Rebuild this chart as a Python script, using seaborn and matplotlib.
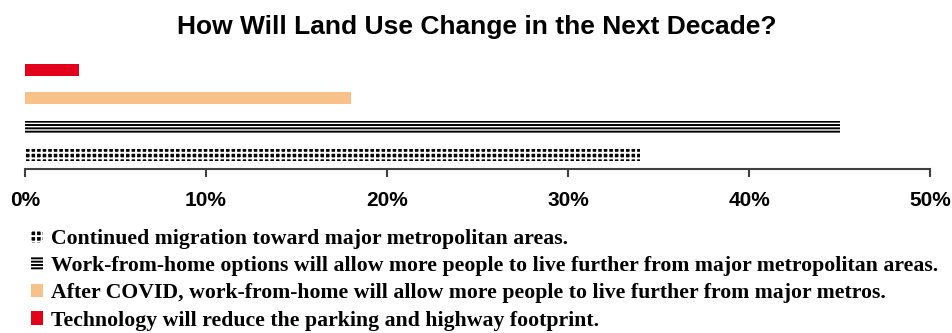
import matplotlib
matplotlib.use("Agg")
import matplotlib.pyplot as plt
from matplotlib.patches import Patch
import seaborn as sns
import pandas as pd

# Survey responses, listed top bar first
answers = [
    "Technology will reduce the parking and highway footprint.",
    "After COVID, work-from-home will allow more people to live further from major metros.",
    "Work-from-home options will allow more people to live further from major metropolitan areas.",
    "Continued migration toward major metropolitan areas.",
]
shares = [3, 18, 45, 34]
tick_values = [0, 10, 20, 30, 40, 50]
tick_labels = ["0%", "10%", "20%", "30%", "40%", "50%"]

fills = ["#E2001A", "#F9C18A", "white", "black"]
edges = ["#E2001A", "#F9C18A", "black", "white"]
hatches = [None, None, "-----", "+++"]

df = pd.DataFrame({"answer": answers, "share": shares})

sns.set_theme(style="white")
plt.rcParams["hatch.linewidth"] = 1.4
plt.rcParams["text.color"] = "black"
plt.rcParams["xtick.color"] = "black"

fig = plt.figure(figsize=(9.53, 3.33), dpi=100)
ax = fig.add_axes([0.0262, 0.4925, 0.9497, 0.3393])

sns.barplot(data=df, x="share", y="answer", orient="h", ax=ax,
            width=0.43, color="black", saturation=1)

for bar, fc, ec, h in zip(ax.patches, fills, edges, hatches):
    bar.set_facecolor(fc)
    bar.set_edgecolor(ec)
    bar.set_linewidth(0)
    if h:
        bar.set_hatch(h)

ax.set_xlim(0, 50)
ax.set_ylim(3.5, -0.5)
ax.set_xticks(tick_values)
ax.set_xticklabels(tick_labels, fontsize=15, fontweight="bold",
                   family="Liberation Sans", color="black")
ax.set_yticks([])
ax.set_xlabel("")
ax.set_ylabel("")
for side in ["top", "right", "left"]:
    ax.spines[side].set_visible(False)
ax.spines["bottom"].set_color("#404040")
ax.spines["bottom"].set_linewidth(1.5)
ax.tick_params(axis="x", bottom=True, direction="out", length=6, width=1.5,
               color="#404040", pad=10)

fig.suptitle("How Will Land Use Change in the Next Decade?", x=0.5, y=0.955,
             fontsize=19, fontweight="bold", family="Liberation Sans",
             color="black")

# Legend lists the bottom bar first
order = [3, 2, 1, 0]
handles = []
for i in order:
    p = Patch(facecolor=fills[i], edgecolor=edges[i], hatch=hatches[i],
              linewidth=0)
    handles.append(p)
fig.legend(handles, [answers[i] for i in order], loc="upper left",
           bbox_to_anchor=(0.033, 0.312), frameon=False,
           prop={"family": "Liberation Serif", "weight": "bold", "size": 15.7},
           handlelength=0.55, handleheight=0.55, handletextpad=0.33,
           labelspacing=0.33, borderaxespad=0, borderpad=0)

fig.savefig("out.png", dpi=100)
